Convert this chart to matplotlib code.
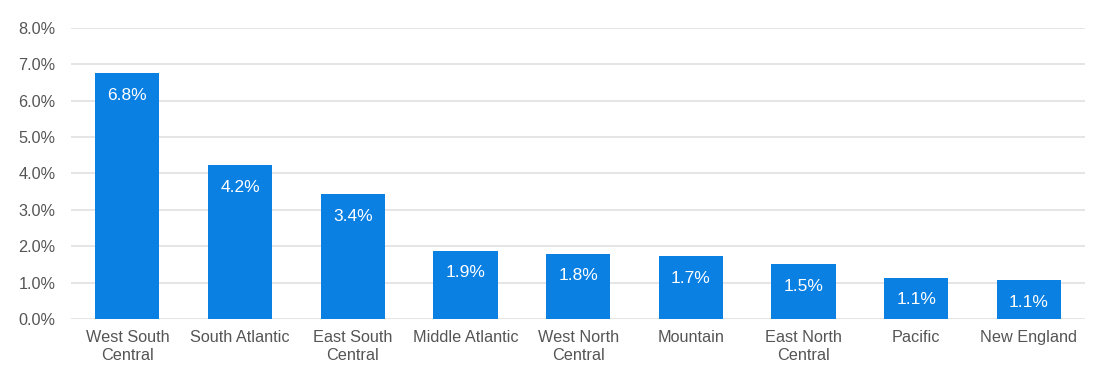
import matplotlib.pyplot as plt

regions = ["West South\nCentral", "South Atlantic", "East South\nCentral", "Middle Atlantic",
           "West North\nCentral", "Mountain", "East North\nCentral", "Pacific", "New England"]
values = [6.75, 4.23, 3.43, 1.87, 1.79, 1.73, 1.51, 1.14, 1.07]
yticks = [0, 1, 2, 3, 4, 5, 6, 7, 8]

plt.rcParams['font.family'] = ['Liberation Sans', 'DejaVu Sans']

fig = plt.figure(figsize=(11.04, 3.86), dpi=100)
ax = fig.add_axes([0.0643, 0.1736, 0.9187, 0.7539])

x = range(len(regions))
bars = ax.bar(x, values, width=0.57, color="#0a80e2", zorder=3)

# value labels inside the top of each bar
for b, v in zip(bars, values):
    ax.annotate(f"{v:.1f}%", (b.get_x() + b.get_width() / 2, v), xytext=(0, -22),
                textcoords="offset pixels",
                ha="center", va="center", color="white", fontsize=12.5)

ax.set_xlim(-0.5, len(regions) - 0.5)
ax.set_ylim(0, 8)
ax.set_yticks(yticks)
ax.set_yticklabels([f"{t:.1f}%" for t in yticks])
ax.set_xticks(list(x))
ax.set_xticklabels(regions, linespacing=1.25)
ax.tick_params(axis="both", length=0, labelsize=11.7, labelcolor="#555555")
ax.tick_params(axis="y", pad=11)
ax.tick_params(axis="x", pad=8)
ax.grid(axis="y", color="#e3e3e3", linewidth=1.3, zorder=0)
for s in ax.spines.values():
    s.set_visible(False)

fig.savefig("out.png", dpi=100)
